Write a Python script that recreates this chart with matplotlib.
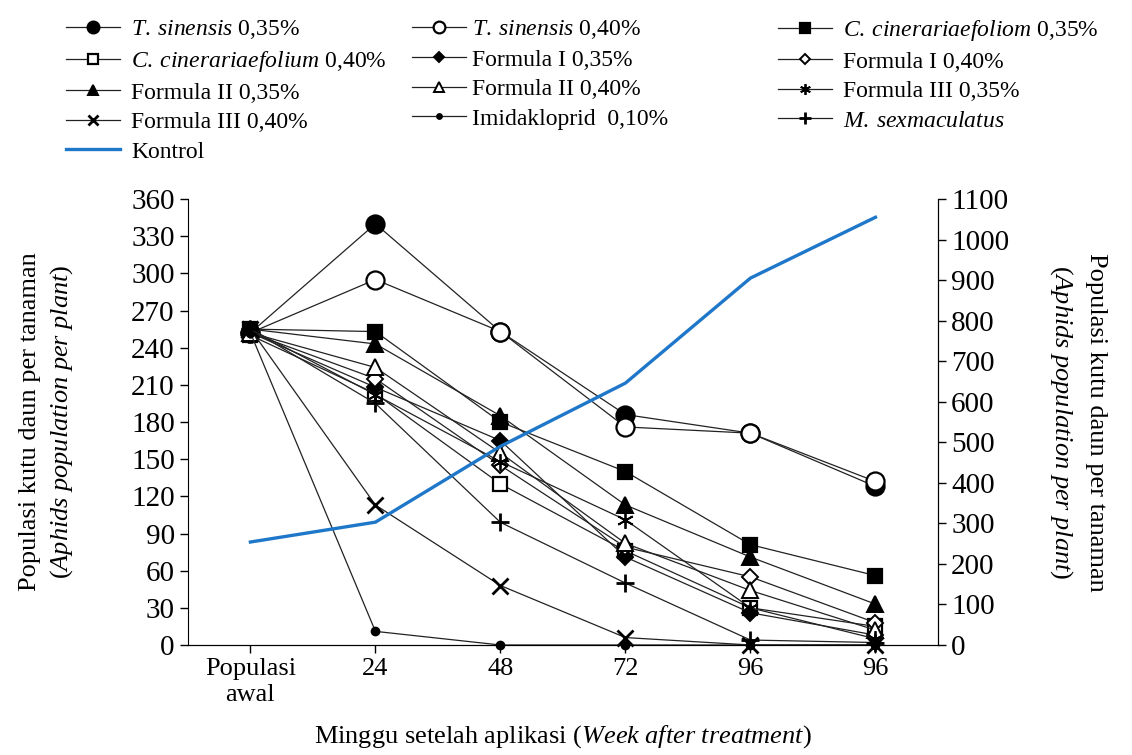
import matplotlib
matplotlib.use("Agg")
import matplotlib.pyplot as plt

plt.rcParams["font.family"] = ["Liberation Serif", "DejaVu Serif"]
plt.rcParams["mathtext.fontset"] = "custom"
plt.rcParams["mathtext.rm"] = "Liberation Serif"
plt.rcParams["mathtext.it"] = "Liberation Serif:italic"

# data (aphids per plant)
periods = ["Populasi\nawal", "24", "48", "72", "96", "96"]
t_sin_035 = [252, 340, 253, 186, 171, 128]
t_sin_040 = [252, 295, 253, 176, 171, 132]
c_cin_035 = [255, 253, 180, 140, 81, 56]
c_cin_040 = [250, 203, 130, 76, 30, 15]
f1_035 = [252, 208, 165, 71, 26, 8]
f1_040 = [252, 215, 145, 79, 55, 18]
f2_035 = [255, 243, 185, 113, 71, 33]
f2_040 = [252, 224, 155, 82, 44, 12]
f3_035 = [255, 202, 148, 101, 30, 5]
f3_040 = [255, 113, 48, 6, 0, 0]
imid_010 = [252, 11, 0, 0, 0, 0]
m_sex = [255, 195, 99, 50, 4, 2]
kontrol = [254, 303, 490, 646, 905, 1055]

x = list(range(len(periods)))

fig = plt.figure(figsize=(11.32, 7.55), dpi=100)
ax = fig.add_axes([0.166, 0.1457, 0.6626, 0.5907])
ax2 = ax.twinx()

line_kw = dict(color="#222222", linewidth=0.9, clip_on=False, zorder=3)

# (label, values, marker, markersize, facecolor, edgewidth)
series = [
    (r"$\mathit{T.\:sinensis}$ 0,35%", t_sin_035, "o", 13, "black", 1.6),
    (r"$\mathit{T.\:sinensis}$ 0,40%", t_sin_040, "o", 13, "white", 1.6),
    (r"$\mathit{C.\:cinerariaefoliom}$ 0,35%", c_cin_035, "s", 10, "black", 1.6),
    (r"$\mathit{C.\:cinerariaefolium}$ 0,40%", c_cin_040, "s", 10, "white", 1.6),
    ("Formula I 0,35%", f1_035, "D", 8, "black", 1.4),
    ("Formula I 0,40%", f1_040, "D", 8, "white", 1.4),
    ("Formula II 0,35%", f2_035, "^", 11, "black", 1.4),
    ("Formula II 0,40%", f2_040, "^", 11, "white", 1.4),
    ("Formula III 0,35%", f3_035, (6, 2, 0), 12, "black", 1.3),
    ("Formula III 0,40%", f3_040, "x", 12, "black", 2.0),
    ("Imidakloprid  0,10%", imid_010, "o", 6, "black", 1.0),
    (r"$\mathit{M.\:sexmaculatus}$", m_sex, "+", 13, "black", 2.0),
]

handles = []
for label, vals, mk, ms, fc, mew in series:
    (h,) = ax.plot(x, vals, marker=mk, markersize=ms, markerfacecolor=fc,
                   markeredgecolor="black", markeredgewidth=mew, label=label, **line_kw)
    handles.append(h)

(h_k,) = ax2.plot(x, kontrol, color="#1f77c9", linewidth=2.4, label="Kontrol")
handles.append(h_k)

ax.set_xlim(-0.5, 5.5)
ax.set_ylim(0, 360)
ax.set_yticks(range(0, 361, 30))
ax2.set_ylim(0, 1100)
ax2.set_yticks(range(0, 1101, 100))
ax.set_xticks(x)
ax.set_xticklabels(periods, linespacing=1.25)

for a in (ax, ax2):
    a.spines["top"].set_visible(False)
    a.tick_params(labelsize=19, length=6, width=1, direction="out")
    a.tick_params(axis="y", labelsize=21)
ax2.spines["left"].set_visible(False)

ax.set_ylabel("Populasi kutu daun per tanaman\n"
              r"($\mathit{Aphids\ population\ per\ plant}$)", fontsize=19, labelpad=40,
              linespacing=1.4)
ax2.set_ylabel("Populasi kutu daun per tanaman\n"
               r"($\mathit{Aphids\ population\ per\ plant}$)", fontsize=19, rotation=270,
               va="bottom", labelpad=28, linespacing=1.5)
ax.set_xlabel(r"Minggu setelah aplikasi ($\mathit{Week\ after\ treatment}$)",
              fontsize=19, labelpad=12)

# legend: three columns placed separately
cols = [
    ([0, 3, 6, 9, 12], 66, 0.45),
    ([1, 4, 7, 10], 412, 0.25),
    ([2, 5, 8, 11], 778, 0.45),
]
for idx, xpix, pad in cols:
    fig.legend([handles[i] for i in idx], [handles[i].get_label() for i in idx],
               loc="upper left", bbox_to_anchor=(xpix / 1132, 1 - 18 / 755),
               frameon=False, fontsize=17, handlelength=2.3, handletextpad=pad,
               labelspacing=0.34, borderpad=0, borderaxespad=0, markerscale=0.65)

fig.savefig("out.png", dpi=100)
